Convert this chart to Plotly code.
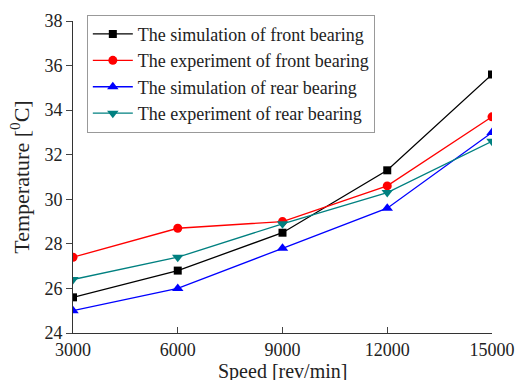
import plotly.graph_objects as go

speed = [3000, 6000, 9000, 12000, 15000]
speed_labels = ["3000", "6000", "9000", "12000", "15000"]
sim_front = [25.6, 26.8, 28.5, 31.3, 35.6]
exp_front = [27.4, 28.7, 29.0, 30.6, 33.7]
sim_rear = [25.0, 26.0, 27.8, 29.6, 33.0]
exp_rear = [26.4, 27.4, 28.9, 30.3, 32.6]

names = ["The simulation of front bearing", "The experiment of front bearing",
         "The simulation of rear bearing", "The experiment of rear bearing"]
series = [sim_front, exp_front, sim_rear, exp_rear]
colors = ["#000000", "#FF0000", "#0000FF", "#008080"]
symbols = ["square", "circle", "triangle-up", "triangle-down"]
sizes = [8, 9, 10, 10]

fig = go.Figure()
for n, s, c, m, sz in zip(names, series, colors, symbols, sizes):
    fig.add_trace(go.Scatter(x=speed, y=s, name=n, mode="lines+markers",
                             line=dict(color=c, width=1.3),
                             marker=dict(symbol=m, size=sz, color=c)))

fam = "Liberation Serif, Times New Roman, serif"
font = dict(family=fam, size=18, color="#222")
fig.update_layout(
    width=518, height=380,
    margin=dict(l=73, r=26, t=21, b=47),
    paper_bgcolor="white", plot_bgcolor="white",
    font=font,
    showlegend=True,
    legend=dict(x=0.033, y=1.02, xanchor="left", yanchor="top",
                bordercolor="#999", borderwidth=1, bgcolor="white",
                font=dict(family=fam, size=18, color="#222"),
                tracegroupgap=0, itemwidth=40),
    annotations=[dict(text="Speed [rev/min]", xref="paper", yref="paper",
                      x=0.5, y=0, yshift=-25, xanchor="center", yanchor="top",
                      showarrow=False,
                      font=dict(family=fam, size=20, color="#222"))],
)
fig.update_xaxes(range=[3000, 15000], tickvals=speed, ticktext=speed_labels,
                 ticks="inside", ticklen=6, automargin=False,
                 showline=True, linecolor="#333", linewidth=1, showgrid=False,
                 zeroline=False, tickfont=font)
fig.update_yaxes(range=[24, 38], dtick=2, ticks="outside", ticklen=6, automargin=False,
                 showline=True, linecolor="#333", linewidth=1, showgrid=False,
                 zeroline=False, title=dict(text="Temperature [<sup>0</sup>C]", standoff=8),
                 tickfont=font)
fig.write_html("out.html")
